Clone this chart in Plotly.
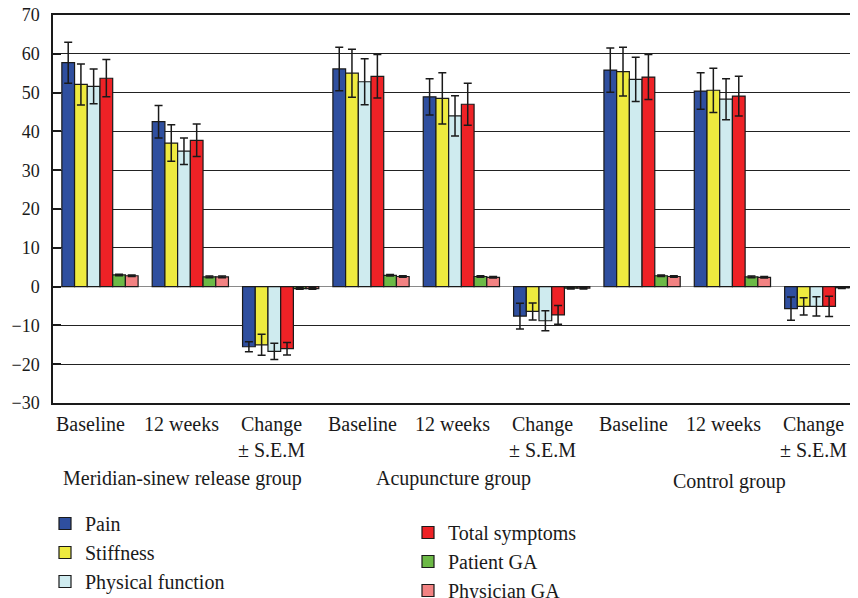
import plotly.graph_objects as go

# ---------------- data ----------------
groups = ["Meridian-sinew release group", "Acupuncture group", "Control group"]
timepoints = ["Baseline", "12 weeks", "Change<br>± S.E.M"]

series_names = ["Pain", "Stiffness", "Physical function",
                "Total symptoms", "Patient GA", "Physician GA"]
series_colors = ["#2F4F9F", "#EEEA3F", "#CFEBEF", "#EE2226", "#6CB946", "#F28282"]

# values per category (group x timepoint), 9 values per series
pain      = [57.7, 42.5, -15.5, 56.1, 48.9, -7.6, 55.8, 50.4, -5.7]
stiffness = [52.1, 37.0, -15.0, 55.0, 48.5, -6.4, 55.4, 50.6, -5.1]
physfunc  = [51.6, 34.9, -16.7, 52.8, 44.0, -8.8, 53.4, 48.3, -5.1]
total     = [53.7, 37.7, -16.0, 54.2, 47.0, -7.3, 54.0, 49.1, -5.1]
patient   = [3.0, 2.5, -0.5, 2.9, 2.6, -0.4, 2.8, 2.5, -0.3]
physician = [2.8, 2.5, -0.5, 2.6, 2.4, -0.4, 2.6, 2.4, -0.3]

pain_err      = [5.3, 4.2, 1.3, 5.6, 4.7, 3.3, 5.7, 4.7, 3.0]
stiffness_err = [5.3, 4.7, 2.7, 6.2, 6.6, 2.2, 6.3, 5.7, 2.2]
physfunc_err  = [4.5, 3.4, 2.1, 5.9, 5.2, 2.6, 5.7, 5.3, 2.5]
total_err     = [4.8, 4.2, 1.6, 5.6, 5.4, 2.4, 5.8, 5.1, 2.6]
patient_err   = [0.2, 0.2, 0.2, 0.2, 0.2, 0.2, 0.2, 0.2, 0.2]
physician_err = [0.2, 0.2, 0.2, 0.2, 0.2, 0.2, 0.2, 0.2, 0.2]

values = [pain, stiffness, physfunc, total, patient, physician]
errors = [pain_err, stiffness_err, physfunc_err, total_err, patient_err, physician_err]
legend_ids = ["legend", "legend", "legend", "legend2", "legend2", "legend2"]

y_ticks = list(range(-30, 80, 10))

# ---------------- figure ----------------
# the page places the figure 8px in from the top-left corner of the window
OFF = 8
W, H = 858 - OFF, 598 - OFF
ML, MR, MT, MB = 45, 0, 7, 195
PW, PH = W - ML - MR, H - MT - MB

def px_x(px):
    return (px - OFF - ML) / PW

def px_y(py):
    return (H - MB - (py - OFF)) / PH

n_cat = len(groups) * len(timepoints)
xs = list(range(n_cat))

fig = go.Figure()
for name, color, vals, errs, lg in zip(series_names, series_colors, values, errors, legend_ids):
    fig.add_trace(go.Bar(
        x=xs, y=vals, name=name, legend=lg, legendgroup=name,
        marker=dict(color=color, line=dict(color="#1a1a1a", width=1.2)),
        error_y=dict(type="data", array=errs, visible=True,
                     color="#1a1a1a", thickness=1.5, width=4),
    ))

serif = "Liberation Serif, Times New Roman, serif"
TXT = 20

# category labels
annotations = []
for gi, g in enumerate(groups):
    for ti, t in enumerate(timepoints):
        annotations.append(dict(
            x=gi * len(timepoints) + ti, xref="x", xshift=-9,
            y=px_y(411), yref="paper", yanchor="top",
            text=t, showarrow=False, align="center",
            font=dict(family=serif, size=TXT, color="#1a1a1a"),
        ))
    annotations.append(dict(
        x=gi * len(timepoints) + 1, xref="x", xshift=-8 if gi < 2 else -3,
        y=px_y(478 if gi < 2 else 481), yref="paper", yanchor="middle",
        text=g, showarrow=False,
        font=dict(family=serif, size=TXT, color="#1a1a1a"),
    ))

fig.update_layout(
    width=W, height=H,
    margin=dict(l=ML, r=MR, t=MT, b=MB, autoexpand=False),
    paper_bgcolor="white", plot_bgcolor="white",
    barmode="group", bargap=0.156, bargroupgap=0,
    font=dict(family=serif, size=TXT, color="#1a1a1a"),
    showlegend=True,
    legend=dict(x=px_x(45), y=px_y(504), xanchor="left", yanchor="top",
                font=dict(family=serif, size=TXT, color="#1a1a1a"),
                bgcolor="rgba(0,0,0,0)", tracegroupgap=5, traceorder="normal"),
    legend2=dict(x=px_x(408), y=px_y(513), xanchor="left", yanchor="top",
                 font=dict(family=serif, size=TXT, color="#1a1a1a"),
                 bgcolor="rgba(0,0,0,0)", tracegroupgap=3, traceorder="normal"),
    annotations=annotations,
)

fig.update_xaxes(
    range=[-0.52, 8.39], showticklabels=False, ticks="",
    showgrid=False, zeroline=False,
    showline=True, mirror=True, linecolor="#1a1a1a", linewidth=1.5,
)
fig.update_yaxes(
    range=[-30, 70], tickvals=y_ticks, ticks="inside", ticklen=8, tickwidth=2,
    tickcolor="#1a1a1a", ticklabelstandoff=8, ticklabeloverflow="allow",
    showgrid=True, gridcolor="#222222", gridwidth=1,
    zeroline=True, zerolinecolor="#8a8a8a", zerolinewidth=1.2,
    showline=True, linecolor="#1a1a1a", linewidth=1.5,
    tickfont=dict(family=serif, size=18, color="#1a1a1a"),
)

fig.write_html("out.html")
